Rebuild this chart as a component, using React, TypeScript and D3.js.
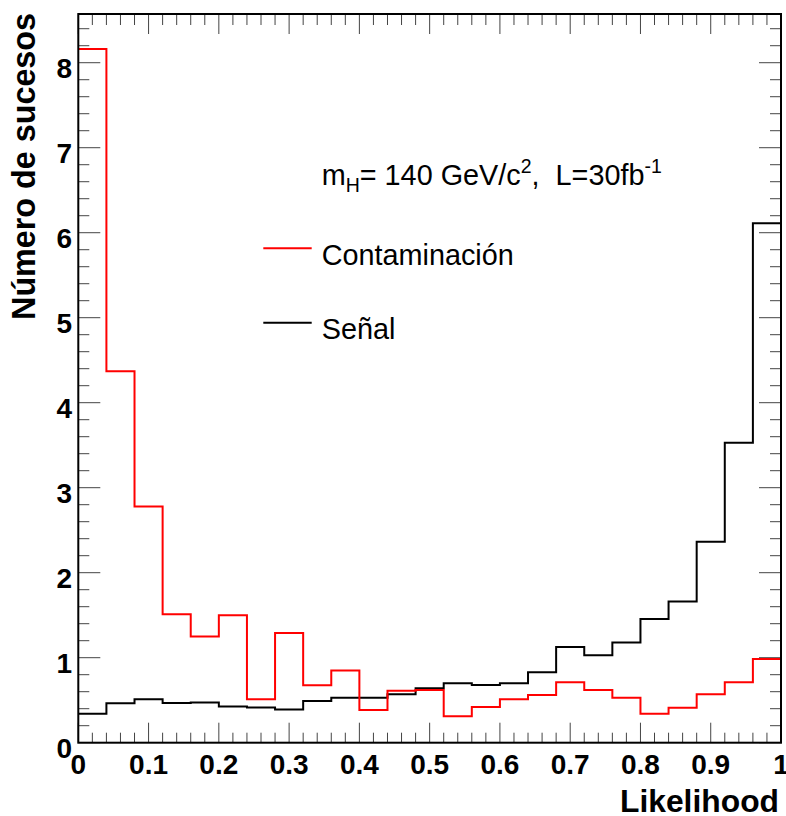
import React from "react";
import * as d3 from "d3";

// ---- data ----
const xMin = 0;
const xMax = 1;
const binWidth = 0.04;
const binLows = [0, 0.04, 0.08, 0.12, 0.16, 0.2, 0.24, 0.28, 0.32, 0.36, 0.4, 0.44, 0.48, 0.52, 0.56, 0.6, 0.64, 0.68, 0.72, 0.76, 0.8, 0.84, 0.88, 0.92, 0.96];
const contaminacion = [8.16, 4.37, 2.78, 1.51, 1.25, 1.5, 0.51, 1.29, 0.675, 0.85, 0.385, 0.61, 0.62, 0.31, 0.42, 0.51, 0.56, 0.71, 0.62, 0.53, 0.34, 0.41, 0.57, 0.71, 0.985];
const senal = [0.34, 0.463, 0.51, 0.467, 0.473, 0.425, 0.415, 0.39, 0.49, 0.53, 0.53, 0.57, 0.64, 0.7, 0.68, 0.7, 0.83, 1.125, 1.03, 1.18, 1.455, 1.66, 2.365, 3.53, 6.11];
const yMax = 8.573;
const xMajorTicks = [0, 0.1, 0.2, 0.3, 0.4, 0.5, 0.6, 0.7, 0.8, 0.9, 1];
const xTickLabels = ["0", "0.1", "0.2", "0.3", "0.4", "0.5", "0.6", "0.7", "0.8", "0.9", "1"];
const yMajorTicks = [0, 1, 2, 3, 4, 5, 6, 7, 8];
const yTickLabels = ["0", "1", "2", "3", "4", "5", "6", "7", "8"];
const legendItems = [
  { label: "Contaminación", color: "#ff0000" },
  { label: "Señal", color: "#000000" },
];

const W = 786;
const H = 816;
const left = 78.3;
const right = 781;
const top = 14;
const bottom = 742.7;
const FONT = "'Liberation Sans', Arial, Helvetica, sans-serif";

function stepPath(values: number[], x: d3.ScaleLinear<number, number>, y: d3.ScaleLinear<number, number>) {
  let d = "";
  values.forEach((v, i) => {
    const x0 = x(binLows[i]);
    const x1 = x(binLows[i] + binWidth);
    const yy = y(v);
    d += (i === 0 ? `M${x0},${yy}` : `L${x0},${yy}`) + `L${x1},${yy}`;
  });
  return d;
}

export default function App() {
  const x = d3.scaleLinear().domain([xMin, xMax]).range([left, right]);
  const y = d3.scaleLinear().domain([0, yMax]).range([bottom, top]);

  const xMinor = d3.range(0, 50 + 1).map((i) => i * 0.02).filter((v) => v <= xMax + 1e-9);
  const yMinor = d3.range(0, 50).map((i) => i * 0.2).filter((v) => v <= yMax);

  const tickColor = "#444";

  return (
    <svg width={W} height={H} style={{ position: "absolute", left: 0, top: 0, background: "#fff" }} fontFamily={FONT}>
      <rect x={0} y={0} width={W} height={H} fill="#fff" />
      {/* ticks */}
      <g stroke={tickColor} strokeWidth={1}>
        {xMinor.map((v, i) => {
          const isMajor = Math.abs(v * 10 - Math.round(v * 10)) < 1e-6;
          const len = isMajor ? 20 : 10;
          const xx = x(v);
          return (
            <g key={"xt" + i}>
              <line x1={xx} x2={xx} y1={bottom} y2={bottom - len} />
              <line x1={xx} x2={xx} y1={top} y2={top + (isMajor ? 20 : 11)} />
            </g>
          );
        })}
        {yMinor.map((v, i) => {
          const isMajor = Math.abs(v - Math.round(v)) < 1e-6;
          const len = isMajor ? 22 : 11;
          const yy = y(v);
          return (
            <g key={"yt" + i}>
              <line x1={left} x2={left + len} y1={yy} y2={yy} />
              <line x1={right} x2={right - len} y1={yy} y2={yy} />
            </g>
          );
        })}
      </g>
      {/* histograms */}
      <path d={stepPath(senal, x, y)} fill="none" stroke="#000" strokeWidth={2} />
      <path d={stepPath(contaminacion, x, y)} fill="none" stroke="#ff0000" strokeWidth={2} />
      {/* frame */}
      <rect x={left} y={top} width={right - left} height={bottom - top} fill="none" stroke="#000" strokeWidth={2} />
      {/* tick labels */}
      <g fontSize={28} fontWeight="bold" fill="#000">
        {xMajorTicks.map((v, i) => (
          <text key={"xl" + i} x={x(v)} y={774} textAnchor="middle">
            {xTickLabels[i]}
          </text>
        ))}
        {yMajorTicks.map((v, i) => (
          <text key={"yl" + i} x={72} y={y(v) + 15} textAnchor="end">
            {yTickLabels[i]}
          </text>
        ))}
      </g>
      {/* axis titles */}
      <text x={779} y={812} textAnchor="end" fontSize={31.8} fontWeight="bold">
        Likelihood
      </text>
      <text transform="translate(35,13) rotate(-90)" textAnchor="end" fontSize={32.3} fontWeight="bold">
        Número de sucesos
      </text>
      {/* legend */}
      <text x={321.7} y={185} fontSize={28.8}>
        m<tspan fontSize={19.5} dy={7}>H</tspan>
        <tspan dy={-7}>= 140 GeV/c</tspan>
        <tspan fontSize={19.5} dy={-12}>2</tspan>
        <tspan dy={12}>,{"\u00a0\u00a0"}L=30fb</tspan>
        <tspan fontSize={19.5} dy={-12}>-1</tspan>
      </text>
      {legendItems.map((it, i) => {
        const ly = 248.3 + i * 74.4;
        return (
          <g key={"lg" + i}>
            <line x1={263.3} x2={311.7} y1={ly} y2={ly} stroke={it.color} strokeWidth={2} />
            <text x={321.7} y={ly + 16.7} fontSize={28.8}>
              {it.label}
            </text>
          </g>
        );
      })}
    </svg>
  );
}
